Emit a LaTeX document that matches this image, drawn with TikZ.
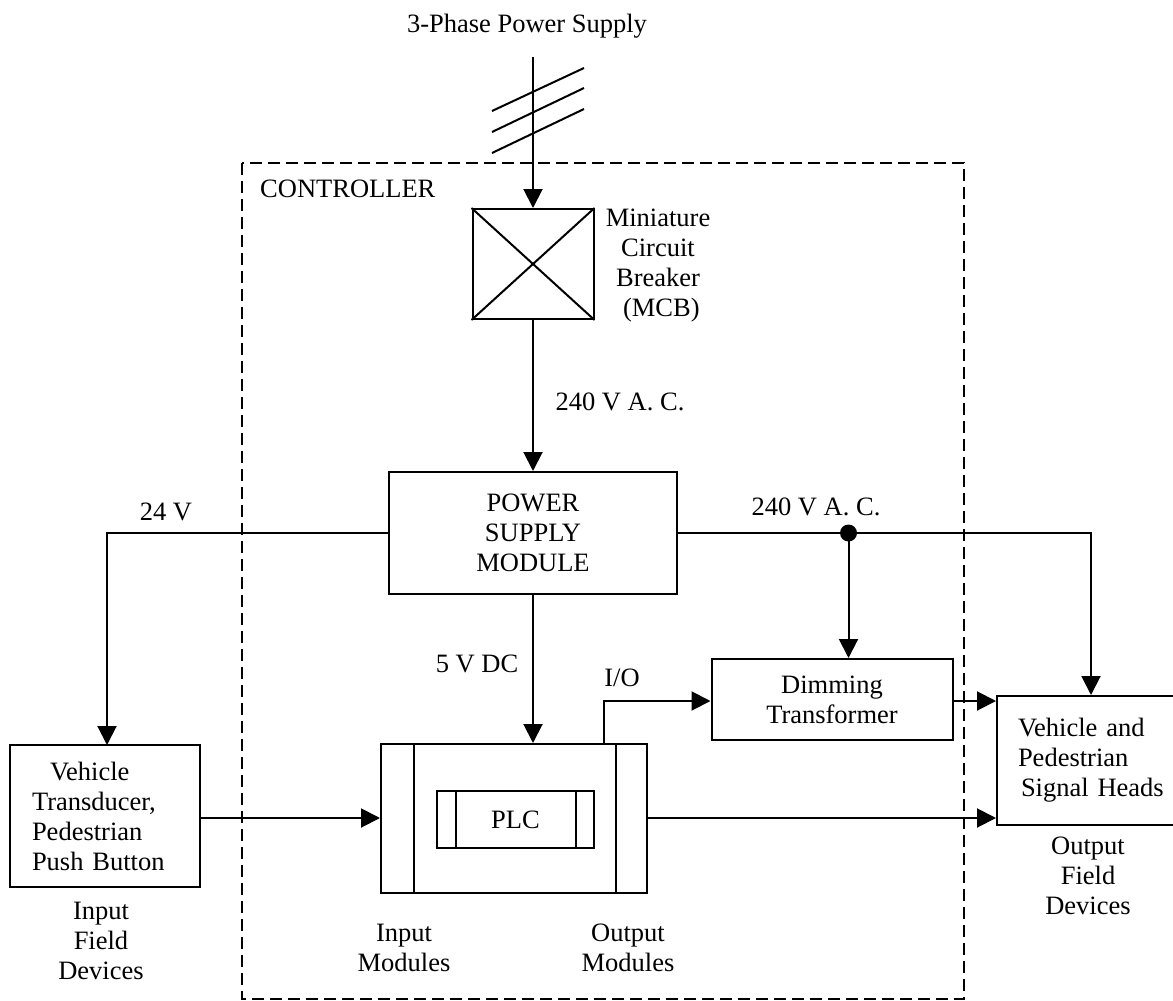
\documentclass[tikz,border=0pt]{standalone}
\usepackage{fontspec}
\setmainfont{Liberation Serif}
\usetikzlibrary{arrows.meta,calc}
\begin{document}
\begin{tikzpicture}[x=1pt,y=-1pt,
  every node/.style={font=\fontsize{26.5}{30}\selectfont},
  ln/.style={line width=2pt},
  arr/.style={ln,-{Triangle[length=19pt,width=19pt]}},
  box/.style={draw,line width=2pt,inner sep=0pt,rectangle,align=center},
  lbl/.style={inner sep=0pt,align=center}]
\useasboundingbox (0,0) rectangle (1173,1001);
% controller dashed frame
\draw[line width=2.2pt,dash pattern=on 12pt off 6pt] (242,163) rectangle (964,999);
\node[lbl,anchor=base west] (ctrl) at (260,197) {CONTROLLER};
% title
\node[lbl,anchor=base] (title) at (527,32) {3-Phase Power Supply};
\coordinate (src) at (533,57);
% MCB
\node[box,minimum width=121pt,minimum height=110pt] (mcb) at (533,264) {};
\draw[ln] (mcb.north west) -- (mcb.south east) (mcb.north east) -- (mcb.south west);
\node[lbl] (mcbl) at (658,266) {Miniature\\Circuit\\Breaker\\\ (MCB)};
\draw[arr] (src) -- (mcb.north);
\draw[ln] (492,111) -- (584,68) (492,132) -- (584,88) (492,153) -- (584,109);
% PSM
\node[box,minimum width=288pt,minimum height=122pt] (psm) at (533,533) {POWER\\SUPPLY\\MODULE};
\draw[arr] (mcb.south) -- (psm.north);
\node[lbl,anchor=base] (l240a) at (620,410) {240 V A. C.};
% left field box
\node[box,minimum height=142pt,text width=146pt,inner xsep=22pt,align=left] (inb) at (105,816)
  {\hspace*{18pt}Vehicle\\Transducer,\\Pedestrian\\Push Button};
\node[lbl] (inbl) at (101,941) {Input\\Field\\Devices};
\draw[arr] (psm.west) -- (107,533) -- (107,745);
\node[lbl,anchor=base] (l24) at (166,520) {24 V};
% PLC
\node[box,minimum width=266pt,minimum height=149pt] (plc) at (514,818.5) {};
\draw[ln] (414,744) -- (414,893) (616,744) -- (616,893);
\node[box,minimum width=157pt,minimum height=57pt] (cpu) at (515.5,819.5) {PLC};
\draw[ln] (455.5,791) -- (455.5,848) (576,791) -- (576,848);
\node[lbl] (inm) at (404,948) {Input\\Modules};
\node[lbl] (outm) at (628,948) {Output\\Modules};
\draw[arr] (psm.south) -- (psm.south |- plc.north);
\node[lbl,anchor=base] (l5) at (477,672) {5 V DC};
% dimming transformer
\node[box,minimum width=241pt,minimum height=81pt] (dim) at (832,699.5) {Dimming\\Transformer};
\draw[arr] (604,744) -- (604,701) -- (dim.west |- 0,701);
\node[lbl,anchor=base] (lio) at (622,686) {I/O};
% signal heads
\node[box,minimum height=129pt,text width=150pt,inner xsep=21pt,align=left,anchor=north west] (sig) at (996,695)
  {Vehicle and\\Pedestrian\\\hspace*{3pt}Signal Heads};
\node[lbl] (sigl) at (1088,876) {Output\\Field\\Devices};
% 240 V AC branch
\coordinate (jn) at (848.5,533);
\draw[ln] (psm.east) -- (jn);
\draw[arr] (jn) -- (1091,533) -- (1091,695);
\draw[arr] (jn) -- (jn |- dim.north);
\fill (jn) circle (8.5pt);
\node[lbl,anchor=base] (l240b) at (816,515) {240 V A. C.};
\draw[arr] (dim.east |- 0,701) -- (996,701);
% signal paths
\draw[arr] (200,818) -- (plc.west |- 0,818);
\draw[arr] (plc.east |- 0,818) -- (996,818);
\end{tikzpicture}
\end{document}
